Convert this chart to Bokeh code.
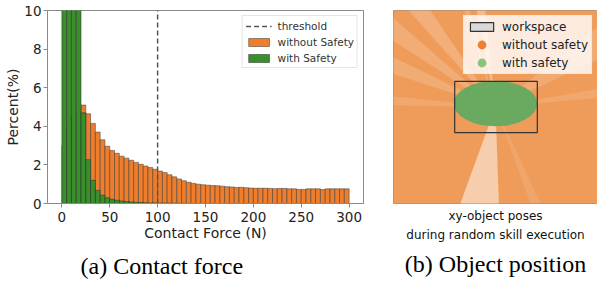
from bokeh.plotting import figure
from bokeh.layouts import row
from bokeh.models import Range1d, Legend, LegendItem, FixedTicker, Title
from bokeh.embed import file_html
from bokeh.resources import INLINE

# ---------------- (a) Contact force histogram ----------------
bin_width = 5
bin_left = list(range(0, 300, bin_width))
without_safety = [
    3.0, 4.0, 4.5, 4.8, 5.1, 4.65, 4.15, 3.7, 3.3, 2.97,
    2.75, 2.6, 2.45, 2.35, 2.24, 2.13, 2.03, 1.94, 1.86, 1.77,
    1.68, 1.6, 1.49, 1.38, 1.27, 1.18, 1.1, 1.04, 1.0, 0.97,
    0.95, 0.93, 0.92, 0.9, 0.87, 0.86, 0.83, 0.84, 0.82, 0.8,
    0.79, 0.79, 0.79, 0.78, 0.77, 0.78, 0.78, 0.76, 0.76, 0.73,
    0.73, 0.76, 0.76, 0.76, 0.72, 0.76, 0.76, 0.76, 0.76, 0.76]
with_safety = [
    38.0, 24.0, 15.0, 11.5, 4.7, 2.27, 1.2, 0.68, 0.43, 0.3,
    0.22, 0.17, 0.13, 0.1, 0.08, 0.06, 0.05, 0.04, 0.03, 0.03,
    0.02, 0.02, 0.02, 0.015, 0.01, 0.01, 0, 0, 0, 0,
    0, 0, 0, 0, 0, 0, 0, 0, 0, 0,
    0, 0, 0, 0, 0, 0, 0, 0, 0, 0,
    0, 0, 0, 0, 0, 0, 0, 0, 0, 0]
threshold = 100
x_ticks = [0, 50, 100, 150, 200, 250, 300]
y_ticks = [0, 2, 4, 6, 8, 10]

# ---------------- (b) Object position ----------------
workspace_left, workspace_right = [-0.40], [0.41]
workspace_bottom, workspace_top = [-0.265], [0.265]
without_safety_extent = dict(left=[-1.2], right=[1.2], bottom=[-1.2], top=[1.2])
with_safety_center_x, with_safety_center_y = [0.0], [0.035]
with_safety_width, with_safety_height = [0.8], [0.45]
# sparse (whitish) ray regions of the orange cloud, degrees
streak_start = [250, 124, 139, 154, 96, 105, 25, 5, 174, 290]
streak_end = [272, 132, 147, 162, 101, 108, 38, 10, 179, 295]
streak_alpha = [0.5, 0.2, 0.18, 0.16, 0.3, 0.18, 0.15, 0.12, 0.12, 0.1]

FONT = "DejaVu Sans"
ORANGE = "#ee7d2c"
GREEN = "#3a8f2d"
SPINE = "#8a8a8a"

# ---------------- left figure ----------------
p = figure(width=388, height=286, x_range=Range1d(-15, 315), y_range=Range1d(0, 10),
           output_backend="svg", toolbar_location=None,
           min_border_left=47, min_border_right=25, min_border_top=10, min_border_bottom=83)
p.grid.visible = False
p.outline_line_color = SPINE

right_edges = [b + bin_width for b in bin_left]
zeros = [0] * len(bin_left)
r_without = p.quad(left=bin_left, right=right_edges, bottom=zeros, top=without_safety,
                   fill_color=ORANGE, line_color="#3a3a3a", line_width=0.6, line_alpha=0.85)
r_with = p.quad(left=bin_left, right=right_edges, bottom=zeros, top=with_safety,
                fill_color=GREEN, line_color="#2a2a2a", line_width=0.6, line_alpha=0.85)
thr = p.segment(x0=[threshold], x1=[threshold], y0=[y_ticks[0]], y1=[y_ticks[-1]],
                line_color="#555555", line_width=1.5, line_dash="5 3")

for ax in (p.xaxis[0], p.yaxis[0]):
    ax.axis_line_color = SPINE
    ax.major_tick_line_color = SPINE
    ax.major_tick_out = 4
    ax.major_tick_in = 0
    ax.minor_tick_line_color = None
    ax.major_label_text_font = FONT
    ax.major_label_text_font_size = "13.5px"
    ax.major_label_text_color = "#222222"
    ax.axis_label_text_font = FONT
    ax.axis_label_text_font_size = "14px"
    ax.axis_label_text_font_style = "normal"
    ax.axis_label_text_color = "#222222"
p.xaxis.major_label_standoff = 4
p.xaxis.axis_label_standoff = 0
p.yaxis.major_label_standoff = 2
p.yaxis.axis_label_standoff = 0
p.xaxis.ticker = FixedTicker(ticks=x_ticks)
p.yaxis.ticker = FixedTicker(ticks=y_ticks)
p.xaxis.axis_label = "Contact Force (N)"
p.yaxis.axis_label = "Percent(%)"

cap_a = Title(text="(a) Contact force", align="left", offset=33, standoff=15,
              text_font="Liberation Serif", text_font_size="24px",
              text_font_style="normal", text_color="#000000")
p.add_layout(cap_a, "below")

leg = Legend(items=[LegendItem(label="threshold", renderers=[thr]),
                    LegendItem(label="without Safety", renderers=[r_without]),
                    LegendItem(label="with Safety", renderers=[r_with])],
             location="top_right")
leg.label_text_font = FONT
leg.label_text_font_size = "10.5px"
leg.label_text_color = "#333333"
leg.glyph_width = 26
leg.glyph_height = 10
leg.label_height = 13
leg.label_standoff = 6
leg.spacing = 3
leg.padding = 3
leg.margin = 5
leg.border_line_color = "#cccccc"
leg.background_fill_alpha = 0.85
p.add_layout(leg)

# ---------------- right figure ----------------
q = figure(width=209, height=286, x_range=Range1d(-1.0, 1.0), y_range=Range1d(-1.0, 1.0),
           output_backend="svg", toolbar_location=None,
           x_axis_location=None, y_axis_location=None,
           min_border_left=5, min_border_right=0, min_border_top=7, min_border_bottom=75)
q.grid.visible = False
q.outline_line_color = SPINE

r_ws_fill = q.quad(left=workspace_left, right=workspace_right, bottom=workspace_bottom,
                   top=workspace_top, fill_color="#d9d9d9", line_color="#333333", line_width=1.2)
q.quad(**without_safety_extent, fill_color="#ef9c5a", line_color=None)
q.wedge(x=[0.0] * len(streak_start), y=[0.0] * len(streak_start), radius=2.0,
        start_angle=streak_start, end_angle=streak_end, start_angle_units="deg",
        end_angle_units="deg", fill_color="white", fill_alpha=streak_alpha, line_color=None)
q.ellipse(x=with_safety_center_x, y=with_safety_center_y, width=with_safety_width,
          height=with_safety_height, fill_color="#6aaa60", line_color="#6aaa60", line_width=2)
q.quad(left=workspace_left, right=workspace_right, bottom=workspace_bottom, top=workspace_top,
       fill_color=None, line_color="#333333", line_width=1.2)

legend_proxy_x = [5.0]  # off-frame swatches used only by the legend
r_wo_proxy = q.ellipse(x=legend_proxy_x, y=[0.0], width=10, height=10, width_units="screen",
                       height_units="screen", fill_color="#ee8030", line_color=None)
r_w_proxy = q.ellipse(x=legend_proxy_x, y=[0.0], width=10, height=10, width_units="screen",
                      height_units="screen", fill_color="#8cc37a", line_color=None)

leg2 = Legend(items=[LegendItem(label="workspace", renderers=[r_ws_fill]),
                     LegendItem(label="without safety", renderers=[r_wo_proxy]),
                     LegendItem(label="with safety", renderers=[r_w_proxy])],
              location="top_right")
leg2.label_text_font = FONT
leg2.label_text_font_size = "12px"
leg2.label_text_color = "#222222"
leg2.glyph_width = 29
leg2.glyph_height = 11
leg2.label_height = 15
leg2.label_standoff = 6
leg2.spacing = 3
leg2.padding = 3
leg2.margin = 5
leg2.border_line_color = "#e6e6e6"
leg2.background_fill_alpha = 0.8
q.add_layout(leg2)

for txt, std in (("xy-object poses", 6), ("during random skill execution", 0)):
    q.add_layout(Title(text=txt, align="center", standoff=std, text_font=FONT,
                       text_font_size="12px", text_font_style="normal",
                       text_color="#111111"), "below")
q.add_layout(Title(text="(b) Object position", align="center", standoff=15,
                   text_font="Liberation Serif", text_font_size="24px",
                   text_font_style="normal", text_color="#000000"), "below")

layout = row(p, q)
open("out.html", "w").write(file_html(layout, INLINE))
